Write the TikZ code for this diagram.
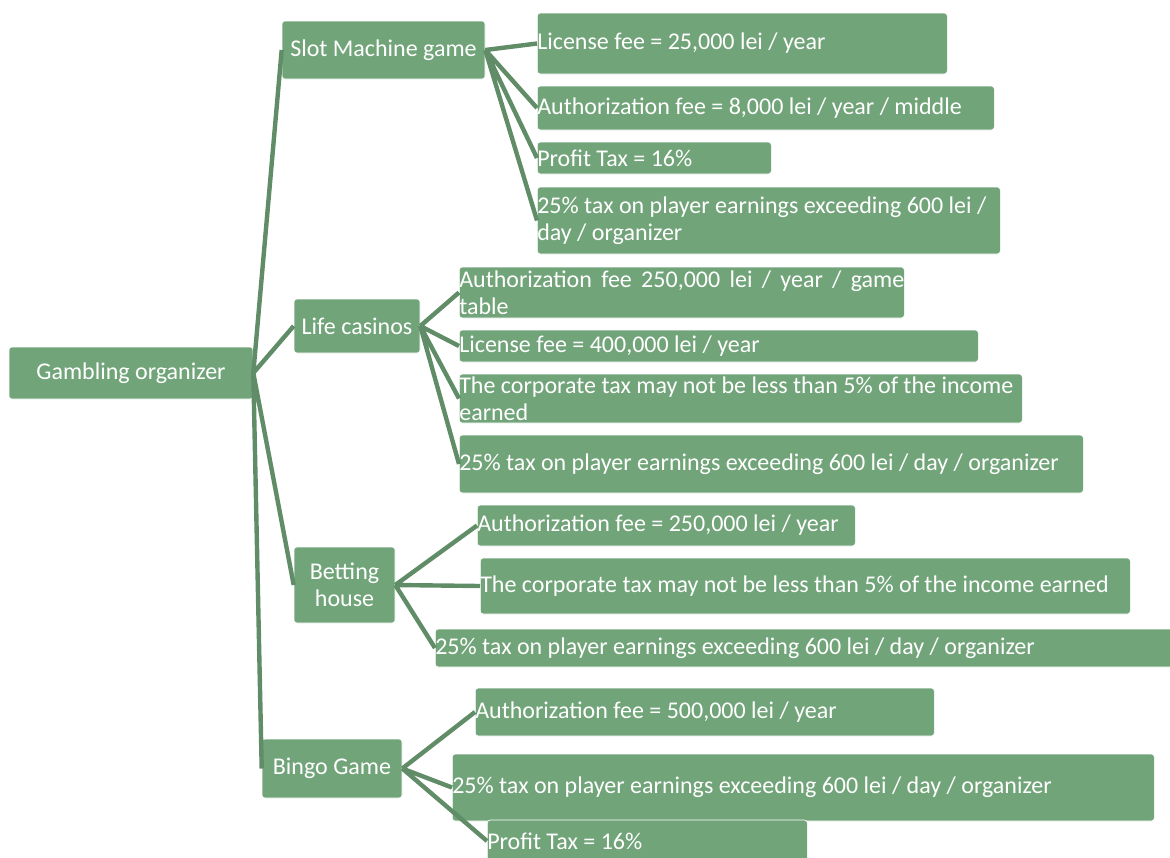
\documentclass[tikz,border=0pt]{standalone}
\usepackage{fontspec}
\setmainfont{Carlito}
\definecolor{boxgreen}{RGB}{114,164,122}
\definecolor{linegreen}{RGB}{96,140,104}

\begin{document}
\begin{tikzpicture}[
  x=1pt, y=-1pt,
  font=\fontsize{24}{27}\selectfont,
  box/.style={fill=boxgreen, draw=white, line width=0.6pt, rounded corners=3pt,
    text=white, align=center, inner sep=2pt,
    execute at begin node={\spaceskip=0pt\xspaceskip=0pt\hyphenpenalty=10000}},
  leaf/.style 2 args={box, anchor=west, align=flush left, text width=#1pt,
    minimum height=#2pt, inner xsep=0pt},
  link/.style={draw=linegreen, line width=4.4pt}
]
  \useasboundingbox (0,0) rectangle (1170,857);

  \node[box, minimum width=244pt, minimum height=52pt] (root) at (131,373) {Gambling organizer};

  \node[box, minimum width=203pt, minimum height=58pt] (slot) at (383.5,50) {Slot Machine game};
  \node[box, minimum width=126pt, minimum height=54pt] (life) at (357,326) {Life casinos};
  \node[box, minimum width=101pt, minimum height=76pt] (bet) at (344.5,585) {Betting\\house};
  \node[box, minimum width=140pt, minimum height=59pt] (bingo) at (332,768.5) {Bingo Game};

  % slot machine
  \node[leaf={410}{61}] (s1) at (537,43.5) {License fee = 25,000 lei / year};
  \node[leaf={457}{44}] (s2) at (537,108) {Authorization fee = 8,000 lei / year / middle};
  \node[leaf={234}{32}] (s3) at (537,158) {Profit Tax = 16\%};
  \node[leaf={463}{67}] (s4) at (537,220.5) {25\% tax on player earnings exceeding 600 lei /\\day / organizer};

  % life casinos
  \node[leaf={445}{51}] (l1) at (459,292.5) {\makebox[\hsize][s]{Authorization fee 250,000 lei / year / game}\\table};
  \node[leaf={519}{32}] (l2) at (459,346) {License fee = 400,000 lei / year};
  \node[leaf={563}{49}] (l3) at (459,398.5) {The corporate tax may not be less than 5\% of the income\\earned};
  \node[leaf={624}{58}] (l4) at (459,464) {25\% tax on player earnings exceeding 600 lei / day / organizer};

  % betting house
  \node[leaf={378}{41}] (b1) at (477,525.5) {Authorization fee = 250,000 lei / year};
  \node[leaf={650}{56}] (b2) at (480,586) {The corporate tax may not be less than 5\% of the income earned};
  \node[leaf={745}{38}] (b3) at (435,648) {25\% tax on player earnings exceeding 600 lei / day / organizer};

  % bingo
  \node[leaf={459}{48}] (g1) at (475,712) {Authorization fee = 500,000 lei / year};
  \node[leaf={702}{67}] (g2) at (452,787.5) {25\% tax on player earnings exceeding 600 lei / day / organizer};
  \node[leaf={320}{42}] (g3) at (487,841) {Profit Tax = 16\%};

  \draw[link] (root.east) -- (slot.west) (root.east) -- (life.west)
    (root.east) -- (bet.west) (root.east) -- (bingo.west);
  \draw[link] (slot.east) -- (s1.west) (slot.east) -- (s2.west)
    (slot.east) -- (s3.west) (slot.east) -- (s4.west);
  \draw[link] (life.east) -- (l1.west) (life.east) -- (l2.west)
    (life.east) -- (l3.west) (life.east) -- (l4.west);
  \draw[link] (bet.east) -- (b1.west) (bet.east) -- (b2.west) (bet.east) -- (b3.west);
  \draw[link] (bingo.east) -- (g1.west) (bingo.east) -- (g2.west) (bingo.east) -- (g3.west);
\end{tikzpicture}
\end{document}
